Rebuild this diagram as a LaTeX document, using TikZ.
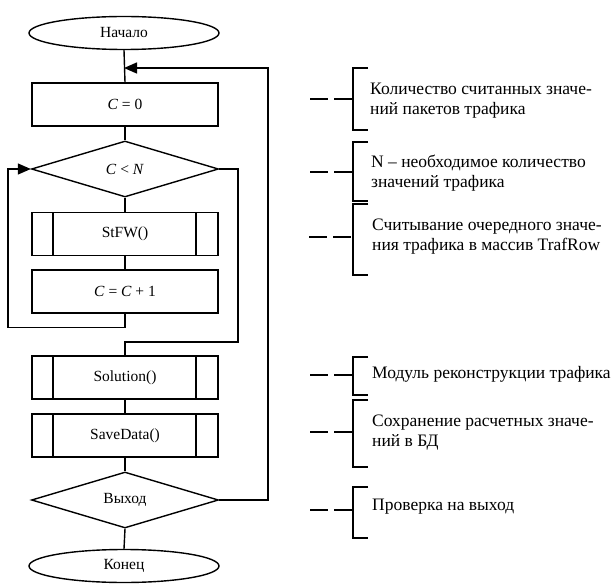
\documentclass[tikz,border=0pt]{standalone}
\usepackage{fontspec}
\setmainfont{Liberation Serif}
\usetikzlibrary{shapes.geometric,arrows.meta}
\begin{document}
\begin{tikzpicture}[x=1pt,y=-1pt,
  flow/.style={line width=1.4pt},
  term/.style={ellipse,draw,line width=1.4pt,minimum width=190,minimum height=33,inner sep=0pt,font=\fontsize{15.5}{18}\selectfont},
  box/.style={rectangle,draw,line width=1.4pt,minimum width=186,minimum height=43,inner sep=0pt,font=\fontsize{15.5}{18}\selectfont},
  proc/.style={box,path picture={
     \draw[line width=1.4pt] ([xshift=21pt]path picture bounding box.north west) -- ([xshift=21pt]path picture bounding box.south west);
     \draw[line width=1.4pt] ([xshift=-22pt]path picture bounding box.north east) -- ([xshift=-22pt]path picture bounding box.south east);}},
  dec/.style={diamond,draw,line width=1.4pt,minimum width=187,minimum height=56,inner sep=0pt,aspect=3.3,font=\fontsize{15.5}{18}\selectfont},
  arr/.style={-{Triangle[length=13pt,width=11pt]}},
  note/.style={anchor=west,align=left,inner sep=0pt,font=\fontsize{17.5}{20}\selectfont},
  brk/.style={line width=2pt},
  dsh/.style={line width=2pt,dash pattern=on 18pt off 6pt}
]
\useasboundingbox (0,0) rectangle (613,588);

% flowchart nodes
\node[term] (start) at (124,33) {Начало};
\node[box]  (c0)    at (125,104.5) {\textit{C} = 0};
\node[dec]  (cmp)   at (125,169) {\textit{C} < \textit{N}};
\node[proc] (stfw)  at (125,234) {StFW()};
\node[box]  (inc)   at (125,291.5) {\textit{C} = \textit{C} + 1};
\node[proc] (sol)   at (125,377.5) {Solution()};
\node[proc] (save)  at (125,435.5) {SaveData()};
\node[dec]  (ex)    at (125,500) {Выход};
\node[term] (end)   at (124,566) {Конец};

\coordinate (j) at (124,68);

% main connectors
\draw[flow] (start.south) -- (c0.north);
\draw[flow] (c0.south) -- (cmp.north);
\draw[flow] (cmp.south) -- (stfw.north);
\draw[flow] (stfw.south) -- (inc.north);
\draw[flow] (sol.south) -- (save.north);
\draw[flow] (save.south) -- (ex.north);
\draw[flow] (ex.south) -- (end.north);

% loops
\draw[flow,arr] (inc.south) -- ++(0,14) -| (8,169) -- (cmp.west);
\draw[flow] (cmp.east) -| (238,342) -| (sol.north);
\draw[flow,arr] (ex.east) -| (268,68) -- (j);

% annotations
\node[note] (n1) at (370,101) {Количество считанных значе-\\ний пакетов трафика};
\node[note] (n2) at (371,173) {N – необходимое количество\\значений трафика};
\node[note] (n3) at (372,237) {Считывание очередного значе-\\ния трафика в массив TrafRow};
\node[note] (n4) at (372,374) {Модуль реконструкции трафика};
\node[note] (n5) at (372,433) {Сохранение расчетных значе-\\ний в БД};
\node[note] (n6) at (372,507) {Проверка на выход};

% brackets
\draw[brk] (368,68) -| (353,130) -- (368,130);
\draw[brk] (368,142) -| (353,201) -- (368,201);
\draw[brk] (368,204) -| (353,275) -- (368,275);
\draw[brk] (368,357) -| (353,395) -- (368,395);
\draw[brk] (368,400) -| (353,467) -- (368,467);
\draw[brk] (368,487) -| (353,538) -- (368,538);

% dashed leaders
\draw[dsh] (310,99) -- (353,99);
\draw[dsh] (310,172) -- (353,172);
\draw[dsh] (309,237) -- (353,237);
\draw[dsh] (310,375) -- (353,375);
\draw[dsh] (310,432) -- (353,432);
\draw[dsh] (310,510) -- (353,510);
\end{tikzpicture}
\end{document}
